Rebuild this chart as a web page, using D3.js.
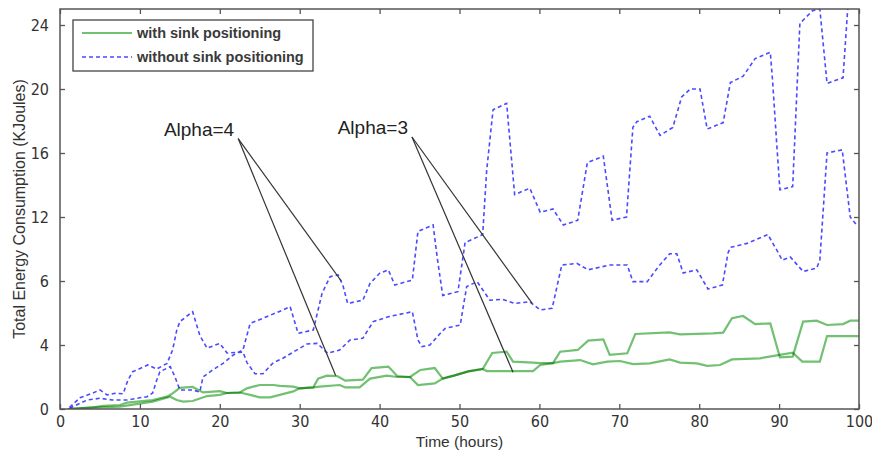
<!DOCTYPE html>
<html>
<head>
<meta charset="utf-8">
<script src="https://cdn.jsdelivr.net/npm/d3@7"></script>
<style>
  body { margin: 0; background: #fff; }
  svg text { font-family: "Liberation Sans", Arial, sans-serif; fill: #333; }
  .tick text { font-family: "Liberation Sans Narrow", "DejaVu Sans Condensed", "Liberation Sans", sans-serif; font-size: 16px; }
</style>
</head>
<body>
<svg id="chart" width="872" height="459"></svg>
<script>
// time axis (hours) and energy axis ticks, as printed on the figure
var hourTicks = [0, 10, 20, 30, 40, 50, 60, 70, 80, 90, 100];
var energyTicks = [0, 4, 8, 12, 16, 20, 24];
var energyTickLabels = ["0", "4", "6", "12", "16", "20", "24"];

var seriesNames = ["with sink positioning", "without sink positioning"];

// [hour, KJoules]
var withSinkA = [[1.0,0],[3.8,0.08],[5.4,0.19],[7.5,0.25],[8.4,0.4],[11.6,0.56],[12.5,0.67],[13.4,0.77],[14.1,0.98],[15.0,1.32],[16.6,1.38],[17.9,1.04],[20.0,1.12],[20.9,1.0],[22.5,1.03],[23.4,1.29],[25.0,1.5],[26.7,1.5],[27.5,1.44],[29.2,1.4],[30.0,1.29],[31.7,1.35],[32.3,1.9],[33.4,2.08],[34.7,2.06],[35.7,1.77],[37.9,1.83],[39.0,2.56],[41.1,2.65],[42.2,2.06],[43.8,2.0],[45.1,2.44],[46.9,2.56],[47.9,1.9],[49.4,2.1],[51.1,2.35],[52.9,2.5],[54.1,3.5],[55.9,3.58],[56.7,2.96],[59.2,2.9],[60.1,2.87],[61.7,2.87],[62.6,3.58],[64.8,3.69],[66.1,4.27],[68.0,4.35],[68.8,3.38],[71.0,3.48],[72.0,4.69],[76.3,4.79],[77.6,4.67],[81.7,4.73],[83.0,4.77],[84.1,5.67],[85.5,5.81],[87.0,5.31],[88.9,5.35],[90.1,3.23],[91.7,3.27],[93.0,5.46],[94.7,5.52],[96.0,5.25],[98.0,5.31],[98.9,5.52],[100,5.52]];
var withSinkB = [[1.0,0],[3.8,0.08],[7.5,0.15],[11.6,0.46],[13.8,0.77],[14.6,0.56],[15.4,0.46],[16.6,0.5],[18.4,0.81],[20.0,0.88],[20.9,1.0],[22.5,1.03],[23.8,0.88],[25.0,0.73],[26.3,0.73],[27.5,0.88],[29.2,1.1],[30.0,1.29],[31.7,1.35],[32.5,1.4],[35.0,1.5],[35.7,1.35],[37.5,1.35],[38.8,1.9],[40.9,2.08],[42.2,2.0],[43.8,2.0],[44.8,1.5],[46.9,1.6],[47.9,1.9],[49.4,2.1],[51.1,2.35],[52.9,2.5],[53.4,2.37],[59.2,2.37],[60.1,2.75],[61.7,2.87],[62.6,2.96],[65.1,3.06],[66.7,2.79],[68.5,2.96],[70.1,3.0],[71.7,2.81],[73.8,2.85],[76.3,3.1],[77.6,2.9],[79.7,2.85],[81.0,2.7],[82.6,2.75],[84.1,3.1],[87.6,3.17],[90.1,3.38],[91.7,3.52],[92.9,2.96],[95.1,2.96],[96.0,4.56],[100,4.56]];
var withoutSinkA = [[1.2,0.05],[3.4,0.56],[5.0,0.67],[6.6,0.56],[8.4,0.56],[9.6,0.67],[10.9,0.77],[11.6,1.0],[12.1,1.8],[12.5,2.33],[13.8,2.65],[14.4,2.0],[15.0,1.19],[16.6,1.19],[17.5,1.06],[17.9,2.0],[19.1,2.44],[20.4,2.85],[21.7,3.38],[22.9,3.69],[23.8,5.35],[25.4,5.67],[27.9,6.19],[28.8,6.4],[29.8,4.73],[31.7,4.94],[32.8,7.23],[33.8,8.27],[34.8,8.38],[35.4,7.75],[36.0,6.6],[37.9,6.8],[38.8,7.85],[40.0,8.48],[41.1,8.69],[41.9,7.75],[44.1,8.06],[44.8,11.1],[46.7,11.5],[47.2,9.5],[47.9,7.1],[49.8,7.33],[50.7,10.4],[52.9,10.9],[53.4,14.9],[54.2,18.7],[55.9,19.1],[56.9,13.4],[58.8,13.8],[60.1,12.3],[61.7,12.5],[63.0,11.5],[64.8,11.8],[66.0,15.4],[68.0,15.8],[69.1,11.8],[70.9,12.0],[71.7,17.6],[72.2,17.96],[73.8,18.3],[75.1,17.1],[76.7,17.6],[77.8,19.5],[78.9,20.0],[80.1,20.0],[81.0,17.5],[83.0,17.9],[83.9,20.4],[85.5,20.8],[87.0,21.9],[88.9,22.3],[89.2,20.4],[89.7,16.6],[90.1,13.7],[91.7,13.9],[92.6,24.1],[94.2,24.9],[95.1,25.0],[96.0,20.35],[98.0,20.7],[98.6,25.1],[99.2,28]];
var withoutSinkB = [[1.2,0.1],[2.5,0.7],[4.1,1.0],[5.0,1.19],[5.9,0.88],[6.9,0.98],[7.9,0.95],[8.5,1.8],[9.1,2.33],[11.0,2.75],[12.1,2.5],[13.4,2.85],[14.1,3.7],[14.6,4.9],[15.0,5.46],[16.6,6.08],[17.5,4.6],[18.4,3.8],[20.0,4.1],[20.9,3.5],[22.9,3.56],[23.4,2.9],[24.4,2.2],[25.4,2.2],[26.7,2.9],[27.9,3.17],[29.2,3.56],[30.9,4.06],[32.2,4.1],[33.5,3.48],[35.0,3.69],[36.3,4.31],[37.9,4.42],[39.2,5.46],[41.1,5.77],[44.1,6.08],[44.8,4.31],[45.3,3.9],[46.3,4.0],[47.6,4.73],[48.2,5.04],[50.1,5.25],[50.4,6.19],[50.9,7.65],[52.2,7.96],[53.8,6.8],[55.4,6.85],[56.9,6.6],[58.8,6.7],[60.1,6.19],[61.6,6.3],[62.8,9.0],[64.7,9.1],[66.1,8.7],[68.8,9.0],[71.0,9.0],[71.7,7.96],[73.5,7.96],[74.9,8.9],[76.3,9.7],[77.2,9.7],[78.0,8.5],[79.7,8.7],[81.1,7.5],[82.9,7.75],[83.6,9.73],[83.9,10.1],[86.0,10.35],[88.6,10.9],[89.7,9.94],[90.4,9.3],[91.4,9.5],[93.0,8.6],[94.7,8.8],[95.1,9.3],[96.0,16.0],[97.9,16.2],[98.9,12.0],[99.7,11.5]];

// callouts: text anchor and the two curve points each one points at
var alphaLabels = ["Alpha=4", "Alpha=3"];
var alphaOrigins = [[22.3, 16.9], [44.05, 17.0]];
var alphaTargets = [[[35.2, 8.0], [34.5, 2.1]], [[59.1, 6.6], [56.7, 2.3]]];

(function() {
  var svg = d3.select("#chart");
  var plotLeft = 60, plotRight = 859, plotTop = 9, plotBottom = 409;

  var x = d3.scaleLinear().domain([0, 100]).range([plotLeft, plotRight]);
  var y = d3.scaleLinear().domain([0, 25]).range([plotBottom, plotTop]);

  svg.append("clipPath").attr("id", "plot")
    .append("rect")
    .attr("x", plotLeft).attr("y", plotTop)
    .attr("width", plotRight - plotLeft).attr("height", plotBottom - plotTop);

  var line = d3.line()
    .x(d => x(d[0]))
    .y(d => y(d[1]));

  var lines = svg.append("g").attr("clip-path", "url(#plot)");

  lines.selectAll("path.blue")
    .data([withoutSinkA, withoutSinkB])
    .enter()
    .append("path")
    .attr("class", "blue")
    .attr("d", line)
    .attr("fill", "none")
    .attr("stroke", "#4a4aff")
    .attr("stroke-width", 1.6)
    .attr("stroke-dasharray", "4,3")
  ;

  lines.selectAll("path.green")
    .data([withSinkA, withSinkB])
    .enter()
    .append("path")
    .attr("class", "green")
    .attr("d", line)
    .attr("fill", "none")
    .attr("stroke", "#72c072")
    .attr("stroke-width", 2.2)
    .style("mix-blend-mode", "multiply")
  ;

  // axes, matlab style: box with inward ticks on all four sides
  var axisColor = "#555";
  function styleAxis(g) {
    g.select(".domain").remove();
    g.selectAll(".tick line").attr("stroke", axisColor).attr("stroke-width", 1.3);
    g.selectAll(".tick text").attr("fill", "#333");
  }

  svg.append("g")
    .attr("transform", "translate(0," + plotBottom + ")")
    .call(d3.axisBottom(x).tickValues(hourTicks).tickSizeInner(-5).tickSizeOuter(0).tickPadding(7))
    .call(styleAxis);
  svg.append("g")
    .attr("transform", "translate(0," + plotTop + ")")
    .call(d3.axisTop(x).tickValues(hourTicks).tickSizeInner(-5).tickSizeOuter(0).tickFormat(""))
    .call(styleAxis);
  svg.append("g")
    .attr("transform", "translate(" + plotLeft + ",0)")
    .call(d3.axisLeft(y).tickValues(energyTicks).tickSizeInner(-5).tickSizeOuter(0).tickPadding(11)
      .tickFormat((d, i) => energyTickLabels[i]))
    .call(styleAxis);
  svg.append("g")
    .attr("transform", "translate(" + plotRight + ",0)")
    .call(d3.axisRight(y).tickValues(energyTicks).tickSizeInner(-5).tickSizeOuter(0).tickFormat(""))
    .call(styleAxis);

  svg.append("rect")
    .attr("x", plotLeft).attr("y", plotTop)
    .attr("width", plotRight - plotLeft).attr("height", plotBottom - plotTop)
    .attr("fill", "none")
    .attr("stroke", axisColor)
    .attr("stroke-width", 1.5);

  svg.append("text")
    .attr("x", (plotLeft + plotRight) / 2)
    .attr("y", 447)
    .attr("text-anchor", "middle")
    .style("font-size", "15.5px")
    .text("Time (hours)");

  svg.append("text")
    .attr("transform", "translate(25," + (plotTop + plotBottom) / 2 + ") rotate(-90)")
    .attr("text-anchor", "middle")
    .style("font-size", "16px")
    .text("Total Energy Consumption (KJoules)");

  // callouts
  alphaLabels.forEach(function(label, i) {
    var o = alphaOrigins[i];
    alphaTargets[i].forEach(function(t) {
      svg.append("line")
        .attr("x1", x(o[0])).attr("y1", y(o[1]))
        .attr("x2", x(t[0])).attr("y2", y(t[1]))
        .attr("stroke", "#333")
        .attr("stroke-width", 1.2);
    });
    svg.append("text")
      .attr("x", x(o[0]) - 4)
      .attr("y", y(o[1]) - 3)
      .attr("text-anchor", "end")
      .style("font-size", "19px")
      .style("fill", "#222")
      .text(label);
  });

  // legend
  var legend = svg.append("g");
  legend.append("rect")
    .attr("x", 73).attr("y", 20)
    .attr("width", 240).attr("height", 51)
    .attr("fill", "#fff")
    .attr("stroke", "#444")
    .attr("stroke-width", 1.3);
  var legendStyles = [
    {stroke: "#72c072", dash: null, w: 2.2},
    {stroke: "#4a4aff", dash: "4,3", w: 1.6}
  ];
  seriesNames.forEach(function(name, i) {
    var cy = 33 + i * 24;
    legend.append("line")
      .attr("x1", 82).attr("x2", 132)
      .attr("y1", cy).attr("y2", cy)
      .attr("stroke", legendStyles[i].stroke)
      .attr("stroke-width", legendStyles[i].w)
      .attr("stroke-dasharray", legendStyles[i].dash);
    legend.append("text")
      .attr("x", 137)
      .attr("y", cy + 5)
      .style("font-size", "14.5px")
      .style("font-weight", "bold")
      .style("fill", "#3a3a3a")
      .text(name);
  });
})();
</script>
</body>
</html>
